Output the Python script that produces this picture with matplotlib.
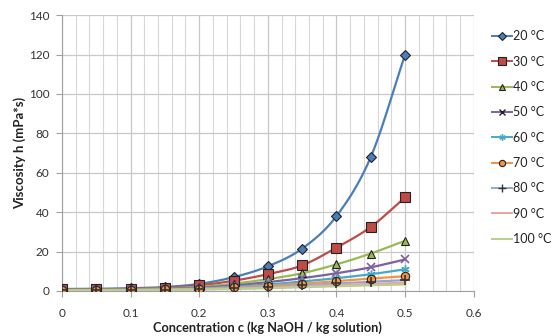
import numpy as np
import matplotlib
matplotlib.use("Agg")
import matplotlib.pyplot as plt
from matplotlib.ticker import MultipleLocator

plt.rcParams['font.family'] = ['Lato', 'DejaVu Sans']

# concentration (kg NaOH / kg solution)
conc = [0.0, 0.05, 0.1, 0.15, 0.2, 0.25, 0.3, 0.35, 0.4, 0.45, 0.5]

# viscosity (mPa*s) per temperature
visc_20 = [1.0, 1.1, 1.4, 2.0, 3.6, 7.0, 12.5, 21.5, 38.0, 68.0, 120.0]
visc_30 = [0.8, 0.9, 1.1, 1.6, 2.8, 5.2, 8.5, 13.0, 22.0, 32.5, 47.5]
visc_40 = [0.65, 0.75, 0.95, 1.3, 2.1, 3.7, 6.0, 9.0, 13.5, 19.0, 25.5]
visc_50 = [0.55, 0.6, 0.8, 1.1, 1.7, 2.8, 4.5, 6.5, 9.0, 12.0, 16.0]
visc_60 = [0.47, 0.5, 0.7, 0.9, 1.4, 2.2, 3.3, 4.8, 6.5, 8.5, 11.0]
visc_70 = [0.4, 0.45, 0.6, 0.8, 1.2, 1.8, 2.7, 3.7, 5.0, 6.3, 7.5]
visc_80 = [0.35, 0.4, 0.5, 0.7, 1.0, 1.5, 2.1, 2.9, 3.8, 4.7, 5.5]
visc_90 = [0.32, 0.35, 0.45, 0.6, 0.85, 1.2, 1.7, 2.3, 3.0, 3.6, 4.2]
visc_100 = [0.28, 0.3, 0.4, 0.55, 0.75, 1.0, 1.4, 1.9, 2.4, 2.9, 3.3]

labels = ['20 °C', '30 °C', '40 °C', '50 °C', '60 °C', '70 °C', '80 °C', '90 °C', '100 °C']
series = [visc_20, visc_30, visc_40, visc_50, visc_60, visc_70, visc_80, visc_90, visc_100]
colors = ['#4A7EBB', '#BE4B48', '#98B954', '#7D60A0', '#46AAC5', '#F69240',
          '#8FA8D6', '#E6A5A4', '#B9CE8F']
markers = ['D', 's', '^', 'x', (6, 2, 0), 'o', '+', None, None]
msizes = [5, 7, 6, 6, 6, 6, 7, 0, 0]


def smooth(x, y, n=20):
    # catmull-rom style smoothing, like excel's smoothed line
    x = np.asarray(x, float)
    y = np.asarray(y, float)
    px = np.concatenate([[2 * x[0] - x[1]], x, [2 * x[-1] - x[-2]]])
    py = np.concatenate([[2 * y[0] - y[1]], y, [2 * y[-1] - y[-2]]])
    xs, ys = [], []
    for i in range(1, len(px) - 2):
        t = np.linspace(0, 1, n, endpoint=False)
        for p, out in ((px, xs), (py, ys)):
            p0, p1, p2, p3 = p[i - 1], p[i], p[i + 1], p[i + 2]
            out.extend(0.5 * ((2 * p1) + (-p0 + p2) * t +
                              (2 * p0 - 5 * p1 + 4 * p2 - p3) * t ** 2 +
                              (-p0 + 3 * p1 - 3 * p2 + p3) * t ** 3))
    xs.append(x[-1])
    ys.append(y[-1])
    return xs, ys


fig = plt.figure(figsize=(5.58, 3.36), dpi=100)
ax = fig.add_axes([0.111, 0.134, 0.738, 0.821])

handles = []
for vals, lab, col, mk, ms in zip(series, labels, colors, markers, msizes):
    sx, sy = smooth(conc, vals)
    ax.plot(sx, sy, color=col, lw=1.6, zorder=3)
    lms = ms * 0.75
    if mk is None:
        h, = ax.plot([], [], color=col, lw=1.4, label=lab)
    elif mk in ('x', '+'):
        mc = '#333333'
        ax.plot(conc, vals, ls='none', marker=mk, ms=ms, color=mc if mk == '+' else col,
                mew=1.2, zorder=4)
        if mk == 'x':
            mc = '#222222'
        h, = ax.plot([], [], color=col, lw=1.4, marker=mk, ms=lms, mec=mc, mew=1.0, label=lab)
    elif mk == (6, 2, 0):
        ax.plot(conc, vals, ls='none', marker=mk, ms=ms, color=col, mec=col, mew=1.0, zorder=4)
        h, = ax.plot([], [], color=col, lw=1.4, marker=mk, ms=lms, mec=col, mew=1.0, label=lab)
    else:
        ax.plot(conc, vals, ls='none', marker=mk, ms=ms, mfc=col, mec='#222222',
                mew=0.8, zorder=4)
        h, = ax.plot([], [], color=col, lw=1.4, marker=mk, ms=lms, mfc=col, mec='#222222',
                     mew=0.8, label=lab)
    handles.append(h)

ax.set_xlim(0, 0.6)
ax.set_ylim(0, 140)
ax.xaxis.set_minor_locator(MultipleLocator(0.02))
ax.yaxis.set_major_locator(MultipleLocator(20))
ax.set_xticks([0, 0.1, 0.2, 0.3, 0.4, 0.5, 0.6])
ax.set_xticklabels(['0', '0.1', '0.2', '0.3', '0.4', '0.5', '0.6'])
ax.grid(True, which='major', color='#C8C8C8', lw=0.9)
ax.grid(True, which='minor', axis='x', color='#D8D8D8', lw=0.8)
ax.set_axisbelow(True)
for s in ['top', 'right']:
    ax.spines[s].set_visible(False)
for s in ['left', 'bottom']:
    ax.spines[s].set_color('#A0A0A0')
ax.tick_params(axis='both', which='major', length=4, color='#A0A0A0', labelsize=8.5,
               labelcolor='#333333', pad=5)
ax.tick_params(axis='x', which='major', pad=8)
ax.tick_params(axis='x', which='minor', length=0)

ax.set_xlabel('Concentration c (kg NaOH / kg solution)', fontsize=9.2, fontweight='bold',
              color='#222222', labelpad=2)
ax.set_ylabel('Viscosity h (mPa*s)', fontsize=9.5, fontweight='bold', color='#222222', labelpad=2)

fig.legend(handles=handles, loc='upper left', bbox_to_anchor=(0.873, 0.925), frameon=False,
           fontsize=9, handlelength=1.6, handletextpad=0.1, labelspacing=1.07,
           borderaxespad=0, labelcolor='#222222')

fig.savefig('out.png', dpi=100)
